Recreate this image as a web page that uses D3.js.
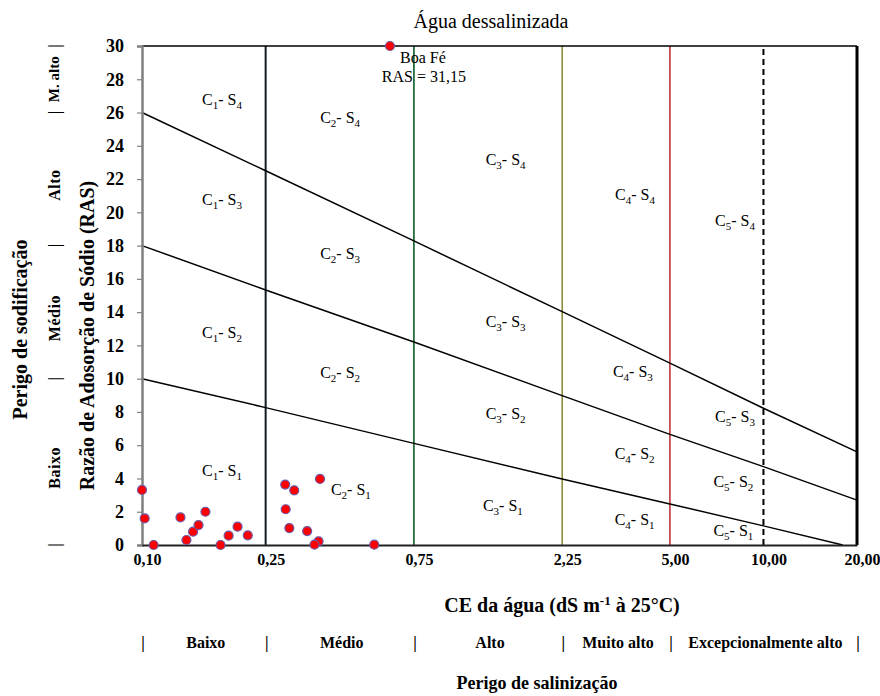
<!DOCTYPE html>
<html>
<head>
<meta charset="utf-8">
<script src="https://cdn.jsdelivr.net/npm/d3@7/dist/d3.min.js"></script>
<style>
  body { margin: 0; background: #fff; }
  text { font-family: 'Liberation Serif', 'Times New Roman', serif; fill: #000; }
</style>
</head>
<body>
<div id="chart"></div>
<script>
// CE (dS/m) ticks shown on the log axis
const ceTicks = [0.1, 0.25, 0.75, 2.25, 5, 10, 20];
const ceTickLabels = ['0,10', '0,25', '0,75', '2,25', '5,00', '10,00', '20,00'];
const rasTicks = [0, 2, 4, 6, 8, 10, 12, 14, 16, 18, 20, 22, 24, 26, 28, 30];

// hazard classes
const salinityBreaks = [0.1, 0.25, 0.75, 2.25, 5, 20];
const salinityNames = ['Baixo', 'Médio', 'Alto', 'Muito alto', 'Excepcionalmente alto'];
const sodicityBreaks = [0, 10, 18, 26, 30];
const sodicityNames = ['Baixo', 'Médio', 'Alto', 'M. alto'];

// S class boundary lines
const s1CE = [0.1, 0.25, 0.75, 2.25, 5, 10, 18];
const s1RAS = [10, 8.26, 6.11, 3.97, 2.47, 1.15, 0];
const s2CE = [0.1, 0.25, 0.75, 2.25, 5, 10, 20];
const s2RAS = [18, 15.33, 12.2, 8.98, 6.65, 4.71, 2.7];
const s3CE = [0.1, 0.25, 0.75, 2.25, 5, 10, 20];
const s3RAS = [26, 22.5, 18.28, 14.03, 10.93, 8.22, 5.6];

// samples of desalinated water
const sampleCE = [0.100, 0.102, 0.109, 0.133, 0.139, 0.146, 0.152, 0.160, 0.179, 0.190, 0.203, 0.219,
                  0.289, 0.309, 0.374, 0.290, 0.298, 0.340, 0.370, 0.359, 0.559, 0.628];
const sampleRAS = [3.31, 1.60, 0, 1.66, 0.30, 0.80, 1.20, 2.00, 0, 0.56, 1.10, 0.58,
                   3.63, 3.29, 3.97, 2.15, 1.02, 0.84, 0.22, 0.02, 0.02, 31.15];

// zone labels C-S (anchor in data units)
const zoneC = [1, 1, 1, 1, 2, 2, 2, 2, 3, 3, 3, 3, 4, 4, 4, 4, 5, 5, 5, 5];
const zoneS = [4, 3, 2, 1, 4, 3, 2, 1, 4, 3, 2, 1, 4, 3, 2, 1, 4, 3, 2, 1];
const zoneCE = [0.181, 0.181, 0.181, 0.181, 0.434, 0.434, 0.434, 0.47, 1.48, 1.48, 1.48, 1.45,
                3.86, 3.8, 3.85, 3.85, 8.1, 8.1, 8.0, 8.0];
const zoneRAS = [26.76, 20.75, 12.8, 4.5, 25.7, 17.56, 10.4, 3.37, 23.2, 13.47, 7.94, 2.4,
                 21.1, 10.46, 5.53, 1.56, 19.54, 7.76, 3.85, 0.9];

const width = 880;
const height = 696;
const margin = {top: 46, right: 23, bottom: 151, left: 142};

const svg = d3.select('#chart').append('svg')
  .attr('width', width).attr('height', height);

const x = d3.scaleLog().domain([0.1, 20]).range([margin.left, width - margin.right]);
const y = d3.scaleLinear().domain([0, 30]).range([height - margin.bottom, margin.top]);
const yClamp = y.copy().clamp(true);

// class limit verticals
const vStyles = {
  0.25: {color: '#0e1c28', w: 2},
  0.75: {color: '#0d5a26', w: 1.6},
  2.25: {color: '#77720f', w: 1.3},
  5: {color: '#c0282d', w: 1.5},
  10: {color: '#000', w: 2, dash: '6,4'}
};
svg.append('g').selectAll('line')
  .data([0.25, 0.75, 2.25, 5, 10])
  .join('line')
  .attr('x1', d => x(d)).attr('x2', d => x(d))
  .attr('y1', y(0)).attr('y2', y(30))
  .attr('stroke', d => vStyles[d].color)
  .attr('stroke-width', d => vStyles[d].w)
  .attr('stroke-dasharray', d => vStyles[d].dash || null);

// frame: top and right
svg.append('line')
  .attr('x1', x(0.1)).attr('x2', x(20)).attr('y1', y(30)).attr('y2', y(30))
  .attr('stroke', '#000').attr('stroke-width', 1.5);
svg.append('line')
  .attr('x1', x(20)).attr('x2', x(20)).attr('y1', y(30)).attr('y2', y(0))
  .attr('stroke', '#000').attr('stroke-width', 3);

// boundary lines
const line = d3.line().x(d => x(d[0])).y(d => y(d[1]));
[[s1CE, s1RAS], [s2CE, s2RAS], [s3CE, s3RAS]].forEach(([cs, rs]) => {
  svg.append('path')
    .attr('d', line(cs.map((c, i) => [c, rs[i]])))
    .attr('fill', 'none')
    .attr('stroke', '#000')
    .attr('stroke-width', 1.5);
});

// axes
const yAxis = svg.append('g')
  .attr('transform', `translate(${margin.left},0)`)
  .call(d3.axisLeft(y).tickValues(rasTicks).tickSize(5).tickPadding(13));
yAxis.select('.domain').attr('stroke', '#808080').attr('stroke-width', 2.5);
yAxis.selectAll('.tick line').attr('stroke', '#808080').attr('stroke-width', 1.2);
yAxis.selectAll('.tick text')
  .attr('font-family', 'Liberation Serif').attr('font-weight', 'bold').attr('font-size', 18);

const xAxis = svg.append('g')
  .attr('transform', `translate(0,${y(0)})`)
  .call(d3.axisBottom(x).tickValues(ceTicks).tickSize(0).tickPadding(9)
    .tickFormat((d, i) => ceTickLabels[i]));
xAxis.select('.domain').attr('stroke', '#222').attr('stroke-width', 2);
xAxis.selectAll('.tick text')
  .attr('dx', 5)
  .attr('font-family', 'Liberation Serif').attr('font-weight', 'bold').attr('font-size', 16);

// samples
svg.append('g').selectAll('circle')
  .data(sampleCE.map((c, i) => [c, sampleRAS[i]]))
  .join('circle')
  .attr('cx', d => x(d[0]))
  .attr('cy', d => yClamp(d[1]))
  .attr('r', 4.5)
  .attr('fill', '#ff0000')
  .attr('stroke', '#6a5aa8')
  .attr('stroke-width', 1.2);

// zone labels with subscripts
zoneC.forEach((c, i) => {
  const t = svg.append('text')
    .attr('x', x(zoneCE[i])).attr('y', y(zoneRAS[i]))
    .attr('dy', '0.35em')
    .attr('text-anchor', 'middle')
    .attr('font-size', 16);
  t.append('tspan').text('C');
  t.append('tspan').attr('font-size', 11).attr('dy', 4).text(c);
  t.append('tspan').attr('dy', -4).text('- S');
  t.append('tspan').attr('font-size', 11).attr('dy', 4).text(zoneS[i]);
});

// Boa Fé annotation
const boaIdx = sampleRAS.length - 1;
svg.append('text')
  .attr('x', x(sampleCE[boaIdx]) + 33).attr('y', y(30) + 17)
  .attr('text-anchor', 'middle').attr('font-size', 16)
  .text('Boa Fé');
svg.append('text')
  .attr('x', x(sampleCE[boaIdx]) + 34).attr('y', y(30) + 36)
  .attr('text-anchor', 'middle').attr('font-size', 16)
  .text('RAS = ' + String(sampleRAS[boaIdx]).replace('.', ','));

// title
svg.append('text')
  .attr('x', 491).attr('y', 28)
  .attr('text-anchor', 'middle').attr('font-size', 20)
  .text('Água dessalinizada');

// axis titles
svg.append('text')
  .attr('transform', `translate(94,${(y(0) + y(30)) / 2 + 40}) rotate(-90)`)
  .attr('text-anchor', 'middle').attr('font-size', 20).attr('font-weight', 'bold')
  .text('Razão de Adosorção de Sódio (RAS)');
svg.append('text')
  .attr('transform', `translate(27,${(y(0) + y(30)) / 2 + 34}) rotate(-90)`)
  .attr('text-anchor', 'middle').attr('font-size', 20).attr('font-weight', 'bold')
  .text('Perigo de sodificação');

const ceTitle = svg.append('text')
  .attr('x', 562).attr('y', 612)
  .attr('text-anchor', 'middle').attr('font-size', 20).attr('font-weight', 'bold');
ceTitle.append('tspan').text('CE da água (dS m');
ceTitle.append('tspan').attr('font-size', 13).attr('dy', -7).text('-1');
ceTitle.append('tspan').attr('dy', 7).text('  à 25°C)');

svg.append('text')
  .attr('x', 537).attr('y', 689)
  .attr('text-anchor', 'middle').attr('font-size', 18).attr('font-weight', 'bold')
  .text('Perigo de salinização');

// salinity classes row
const rowY = 648;
svg.append('g').attr('opacity', 0.99).selectAll('text')
  .data(salinityBreaks)
  .join('text')
  .attr('x', d => x(d) + 1).attr('y', rowY)
  .attr('text-anchor', 'middle').attr('font-size', 16).attr('font-weight', 'bold')
  .text('|');
svg.append('g').selectAll('text')
  .data(salinityNames)
  .join('text')
  .attr('x', (d, i) => x(Math.sqrt(salinityBreaks[i] * salinityBreaks[i + 1])) + 2)
  .attr('y', rowY)
  .attr('text-anchor', 'middle').attr('font-size', 16).attr('font-weight', 'bold')
  .text(d => d);

// sodicity classes column
const colX = 54;
svg.append('g').selectAll('text')
  .data(sodicityBreaks)
  .join('text')
  .attr('transform', d => `translate(${colX},${y(d)}) rotate(-90)`)
  .attr('dy', '0.35em')
  .attr('text-anchor', 'middle').attr('font-size', 16).attr('font-weight', 'bold')
  .text('|');
svg.append('g').selectAll('text')
  .data(sodicityNames)
  .join('text')
  .attr('transform', (d, i) => `translate(${colX},${y((sodicityBreaks[i] + sodicityBreaks[i + 1]) / 2) + (i < 3 ? 6 : 0)}) rotate(-90)`)
  .attr('dy', '0.35em')
  .attr('text-anchor', 'middle').attr('font-size', (d, i) => i < 3 ? 16 : 15).attr('font-weight', 'bold')
  .attr('letter-spacing', (d, i) => i < 3 ? 0.5 : 0)
  .text(d => d);
</script>
</body>
</html>
